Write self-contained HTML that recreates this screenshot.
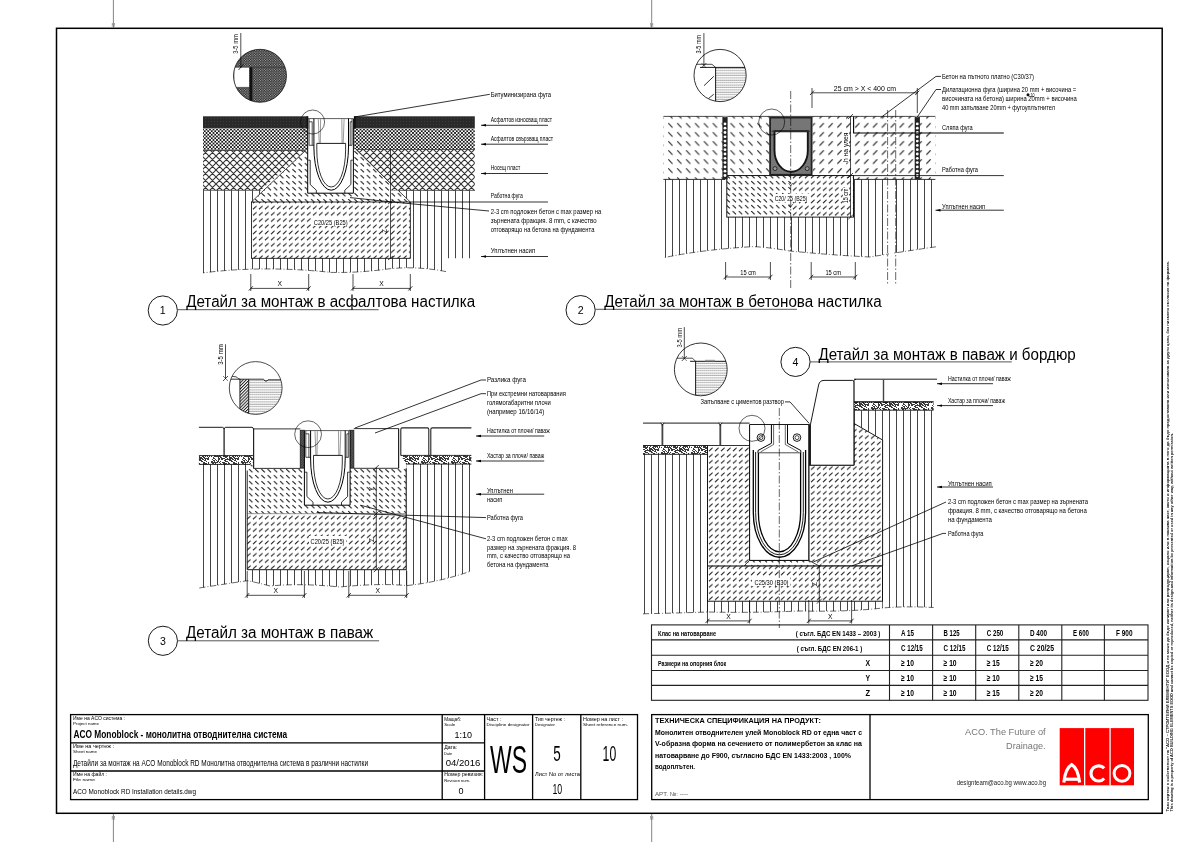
<!DOCTYPE html>
<html><head><meta charset="utf-8"><title>ACO Monoblock RD</title>
<style>html,body{margin:0;padding:0;background:#fff;}svg{display:block;font-family:"Liberation Sans", sans-serif;}</style>
</head><body>
<div style="position:relative;width:1191px;height:842px;overflow:hidden">
<div style="filter:grayscale(1)">
<svg width="1191" height="842" viewBox="0 0 1191 842">
<rect width="1191" height="842" fill="#fff"/>

<defs>
<pattern id="vl" width="7" height="10" patternUnits="userSpaceOnUse"><rect x="0" y="0" width="1" height="10" fill="#444"/></pattern>
<pattern id="xh" x="426" y="156" width="7" height="7" patternUnits="userSpaceOnUse"><path d="M-1,-1L8,8M6,-1L8,1M-1,6L1,8M8,-1L-1,8M1,-1L-1,1M8,6L6,8" stroke="#333" stroke-width="1.1"/></pattern>
<pattern id="fx" width="3.5" height="3.5" patternUnits="userSpaceOnUse"><path d="M-0.5,-0.5L4,4M4,-0.5L-0.5,4" stroke="#000" stroke-width="0.8"/></pattern>
<pattern id="dk" width="3" height="3" patternUnits="userSpaceOnUse"><rect width="3" height="3" fill="#2a2a2a"/><rect x="1" y="1" width="1" height="1" fill="#3c3c3c"/></pattern>
<pattern id="dsh" width="6.2" height="6" patternUnits="userSpaceOnUse"><path d="M1.1,1.1L4.4,4.4" stroke="#1a1a1a" stroke-width="1.05"/></pattern>
<pattern id="dsf" width="6.0" height="6.2" patternUnits="userSpaceOnUse"><path d="M1.0,4.6L4.6,1.4" stroke="#1a1a1a" stroke-width="1.05"/></pattern>
<pattern id="snd" width="30" height="9" patternUnits="userSpaceOnUse"><rect width="30" height="9" fill="#fff"/><path d="M2,0h1v1h-1zM5,0h1v1h-1zM8,0h2v1h-2zM11,0h2v1h-2zM15,0h6v1h-6zM22,0h2v1h-2zM25,0h1v1h-1zM27,0h2v1h-2zM3,1h2v1h-2zM6,1h1v1h-1zM8,1h1v1h-1zM14,1h2v1h-2zM19,1h3v1h-3zM24,1h2v1h-2zM1,2h2v1h-2zM4,2h1v1h-1zM7,2h2v1h-2zM10,2h1v1h-1zM15,2h3v1h-3zM21,2h2v1h-2zM26,2h1v1h-1zM1,3h7v1h-7zM9,3h1v1h-1zM12,3h3v1h-3zM18,3h1v1h-1zM23,3h2v1h-2zM28,3h1v1h-1zM2,4h2v1h-2zM5,4h1v1h-1zM10,4h1v1h-1zM13,4h4v1h-4zM18,4h2v1h-2zM23,4h4v1h-4zM28,4h1v1h-1zM4,5h2v1h-2zM7,5h1v1h-1zM9,5h1v1h-1zM11,5h1v1h-1zM13,5h3v1h-3zM17,5h1v1h-1zM20,5h1v1h-1zM23,5h5v1h-5zM29,5h1v1h-1zM1,6h1v1h-1zM4,6h7v1h-7zM13,6h5v1h-5zM19,6h1v1h-1zM22,6h2v1h-2zM25,6h1v1h-1zM27,6h1v1h-1zM29,6h1v1h-1zM3,7h1v1h-1zM8,7h1v1h-1zM10,7h2v1h-2zM15,7h2v1h-2zM19,7h3v1h-3zM23,7h2v1h-2zM28,7h1v1h-1zM3,8h2v1h-2zM8,8h2v1h-2zM11,8h4v1h-4zM17,8h1v1h-1zM19,8h4v1h-4zM24,8h5v1h-5z" fill="#3a3a3a"/></pattern>
<pattern id="stp" width="2" height="2.4" patternUnits="userSpaceOnUse"><rect width="2" height="2.4" fill="#fff"/><rect x="0.4" y="0.6" width="1.1" height="0.8" fill="#444"/></pattern>
<pattern id="dd" width="2.5" height="2.5" patternUnits="userSpaceOnUse"><rect width="2.5" height="2.5" fill="#2a2a2a"/><rect x="0.2" y="0.2" width="0.9" height="0.9" fill="#eee"/><rect x="1.45" y="1.45" width="0.9" height="0.9" fill="#ddd"/></pattern>
<pattern id="gch" width="2" height="2" patternUnits="userSpaceOnUse"><rect width="2" height="2" fill="#5a5a5a"/><rect x="0" y="0" width="1" height="1" fill="#3a3a3a"/></pattern>
<pattern id="dh" width="2.5" height="2.5" patternUnits="userSpaceOnUse"><rect width="2.5" height="2.5" fill="#3a3a3a"/><path d="M-0.5,3L3,-0.5" stroke="#888" stroke-width="0.6"/></pattern>
<pattern id="dsh9" x="668" y="122.8" width="8.9" height="9.05" patternUnits="userSpaceOnUse"><path d="M0.3,0.3L4.5,4.8" stroke="#1a1a1a" stroke-width="1.05"/></pattern>
<pattern id="dsf9" x="668" y="122.8" width="8.9" height="9.05" patternUnits="userSpaceOnUse"><path d="M0.3,4.8L4.5,0.3" stroke="#1a1a1a" stroke-width="1.05"/></pattern>
<pattern id="dg" width="2.2" height="2.2" patternUnits="userSpaceOnUse" patternTransform="rotate(-45)"><rect width="2.2" height="2.2" fill="#fff"/><rect x="0" y="0" width="2.2" height="1.0" fill="#222"/></pattern>
</defs>
<line x1="113.4" y1="0.0" x2="113.4" y2="27.5" stroke="#777" stroke-width="0.9" /><line x1="113.4" y1="814.0" x2="113.4" y2="842.0" stroke="#777" stroke-width="0.9" /><text x="113.4" y="27.0" font-size="4.5" text-anchor="middle" fill="#777" >M</text><text x="113.4" y="820.0" font-size="4.5" text-anchor="middle" fill="#777" >M</text><line x1="651.7" y1="0.0" x2="651.7" y2="27.5" stroke="#777" stroke-width="0.9" /><line x1="651.7" y1="814.0" x2="651.7" y2="842.0" stroke="#777" stroke-width="0.9" /><text x="651.7" y="27.0" font-size="4.5" text-anchor="middle" fill="#777" >M</text><text x="651.7" y="820.0" font-size="4.5" text-anchor="middle" fill="#777" >M</text><rect x="56.5" y="28.3" width="1105.7" height="785.0" fill="none" stroke="#000" stroke-width="1.5" /><rect x="70.6" y="714.6" width="566.9" height="85.0" fill="none" stroke="#000" stroke-width="1.3" /><line x1="442.2" y1="714.6" x2="442.2" y2="799.6" stroke="#000" stroke-width="1.3" /><line x1="484.6" y1="714.6" x2="484.6" y2="799.6" stroke="#000" stroke-width="1.3" /><line x1="532.6" y1="714.6" x2="532.6" y2="799.6" stroke="#000" stroke-width="1.3" /><line x1="580.8" y1="714.6" x2="580.8" y2="799.6" stroke="#000" stroke-width="1.3" /><line x1="70.6" y1="742.8" x2="484.6" y2="742.8" stroke="#000" stroke-width="1.3" /><line x1="70.6" y1="771.0" x2="484.6" y2="771.0" stroke="#000" stroke-width="1.3" /><text x="73.0" y="719.5" font-size="4.6" textLength="52.0" lengthAdjust="spacingAndGlyphs" >Име на ACO система :</text><text x="73.0" y="724.5" font-size="4.2" textLength="26.0" lengthAdjust="spacingAndGlyphs" >Project name</text><text x="73.5" y="738.2" font-size="10.5" textLength="213.7" lengthAdjust="spacingAndGlyphs" font-weight="bold" >ACO Monoblock - монолитна отводнителна система</text><text x="73.0" y="747.5" font-size="4.6" textLength="41.0" lengthAdjust="spacingAndGlyphs" >Име на чертеж :</text><text x="73.0" y="752.5" font-size="4.2" textLength="24.0" lengthAdjust="spacingAndGlyphs" >Sheet name</text><text x="73.0" y="766.2" font-size="8.8" textLength="295.0" lengthAdjust="spacingAndGlyphs" >Детайли за монтаж на ACO Monoblock RD Монолитна отводнителна система в различни настилки</text><text x="73.0" y="776.0" font-size="4.6" textLength="34.0" lengthAdjust="spacingAndGlyphs" >Име на файл :</text><text x="73.0" y="781.0" font-size="4.2" textLength="22.0" lengthAdjust="spacingAndGlyphs" >File name</text><text x="73.0" y="793.8" font-size="7.8" textLength="123.0" lengthAdjust="spacingAndGlyphs" >ACO Monoblock RD Installation details.dwg</text><text x="444.2" y="720.5" font-size="4.6" textLength="17.0" lengthAdjust="spacingAndGlyphs" >Мащаб:</text><text x="444.2" y="725.5" font-size="4.2" textLength="11.0" lengthAdjust="spacingAndGlyphs" >Scale</text><text x="463.3" y="737.7" font-size="9" textLength="17.5" lengthAdjust="spacingAndGlyphs" text-anchor="middle" >1:10</text><text x="444.2" y="748.8" font-size="4.6" textLength="13.0" lengthAdjust="spacingAndGlyphs" >Дата:</text><text x="444.2" y="754.5" font-size="4.2" textLength="8.0" lengthAdjust="spacingAndGlyphs" >Date</text><text x="463.0" y="765.6" font-size="9" textLength="34.6" lengthAdjust="spacingAndGlyphs" text-anchor="middle" >04/2016</text><text x="444.2" y="776.2" font-size="4.6" textLength="39.0" lengthAdjust="spacingAndGlyphs" >Номер ревизия:</text><text x="444.2" y="781.8" font-size="4.2" textLength="26.0" lengthAdjust="spacingAndGlyphs" >Revision num.</text><text x="461.0" y="793.5" font-size="9" text-anchor="middle" >0</text><text x="486.5" y="720.5" font-size="4.6" textLength="15.0" lengthAdjust="spacingAndGlyphs" >Част :</text><text x="486.5" y="725.5" font-size="4.2" textLength="43.0" lengthAdjust="spacingAndGlyphs" >Discipline designator</text><text x="508.5" y="772.5" font-size="38" textLength="37.0" lengthAdjust="spacingAndGlyphs" text-anchor="middle" >WS</text><text x="535.0" y="720.5" font-size="4.6" textLength="30.0" lengthAdjust="spacingAndGlyphs" >Тип чертеж :</text><text x="535.0" y="725.5" font-size="4.2" textLength="20.0" lengthAdjust="spacingAndGlyphs" >Designator</text><text x="557.0" y="760.8" font-size="22" textLength="7.5" lengthAdjust="spacingAndGlyphs" text-anchor="middle" >5</text><text x="535.0" y="775.8" font-size="4.6" textLength="45.0" lengthAdjust="spacingAndGlyphs" >Лист No от листа</text><text x="557.3" y="793.8" font-size="15" textLength="9.8" lengthAdjust="spacingAndGlyphs" text-anchor="middle" >10</text><text x="583.0" y="720.5" font-size="4.6" textLength="40.0" lengthAdjust="spacingAndGlyphs" >Номер на лист :</text><text x="583.0" y="725.5" font-size="4.2" textLength="45.0" lengthAdjust="spacingAndGlyphs" >Sheet reference num.</text><text x="609.4" y="761.0" font-size="22" textLength="13.6" lengthAdjust="spacingAndGlyphs" text-anchor="middle" >10</text><rect x="651.7" y="714.6" width="496.6" height="85.0" fill="none" stroke="#000" stroke-width="1.3" /><line x1="870.0" y1="714.6" x2="870.0" y2="799.6" stroke="#000" stroke-width="1.3" /><text x="655.0" y="723.4" font-size="8" textLength="166.0" lengthAdjust="spacingAndGlyphs" font-weight="bold" >ТЕХНИЧЕСКА СПЕЦИФИКАЦИЯ НА ПРОДУКТ:</text><text x="655.0" y="735.0" font-size="7.8" textLength="207.0" lengthAdjust="spacingAndGlyphs" font-weight="bold" >Монолитен отводнителен улей Monoblock RD от една част с</text><text x="655.0" y="745.9" font-size="7.8" textLength="207.0" lengthAdjust="spacingAndGlyphs" font-weight="bold" >V-образна форма на сечението от полимербетон за клас на</text><text x="655.0" y="757.5" font-size="7.8" textLength="196.0" lengthAdjust="spacingAndGlyphs" font-weight="bold" >натоварване до F900, съгласно БДС EN 1433:2003 , 100%</text><text x="655.0" y="769.3" font-size="7.8" textLength="40.0" lengthAdjust="spacingAndGlyphs" font-weight="bold" >водоплътен.</text><text x="655.0" y="796.0" font-size="6" textLength="33.0" lengthAdjust="spacingAndGlyphs" fill="#555" >APT. №: ----</text><text x="1045.6" y="735.0" font-size="9" textLength="80.5" lengthAdjust="spacingAndGlyphs" text-anchor="end" fill="#777" >ACO. The Future of</text><text x="1045.6" y="749.0" font-size="9" textLength="39.5" lengthAdjust="spacingAndGlyphs" text-anchor="end" fill="#777" >Drainage.</text><text x="1046.0" y="784.8" font-size="7" textLength="89.3" lengthAdjust="spacingAndGlyphs" text-anchor="end" fill="#222" >designteam@aco.bg  www.aco.bg</text><rect x="651.5" y="624.9" width="496.5" height="75.4" fill="none" stroke="#222" stroke-width="1.1" /><line x1="651.5" y1="639.9" x2="1148.0" y2="639.9" stroke="#222" stroke-width="1.1" /><line x1="651.5" y1="655.2" x2="1148.0" y2="655.2" stroke="#222" stroke-width="1.1" /><line x1="651.5" y1="670.5" x2="1148.0" y2="670.5" stroke="#222" stroke-width="1.1" /><line x1="651.5" y1="685.4" x2="1148.0" y2="685.4" stroke="#222" stroke-width="1.1" /><line x1="889.5" y1="624.9" x2="889.5" y2="700.3" stroke="#222" stroke-width="1.1" /><line x1="932.6" y1="624.9" x2="932.6" y2="700.3" stroke="#222" stroke-width="1.1" /><line x1="975.7" y1="624.9" x2="975.7" y2="700.3" stroke="#222" stroke-width="1.1" /><line x1="1018.8" y1="624.9" x2="1018.8" y2="700.3" stroke="#222" stroke-width="1.1" /><line x1="1061.8" y1="624.9" x2="1061.8" y2="700.3" stroke="#222" stroke-width="1.1" /><line x1="1104.4" y1="624.9" x2="1104.4" y2="700.3" stroke="#222" stroke-width="1.1" /><text x="658.0" y="636.4" font-size="7.6" textLength="58.0" lengthAdjust="spacingAndGlyphs" font-weight="bold" >Клас на натоварване</text><text x="795.7" y="636.4" font-size="7.6" textLength="84.7" lengthAdjust="spacingAndGlyphs" font-weight="bold" >( съгл. БДС EN 1433 – 2003 )</text><text x="796.7" y="650.9" font-size="7.6" textLength="65.5" lengthAdjust="spacingAndGlyphs" font-weight="bold" >( съгл. БДС EN 206-1 )</text><text x="658.0" y="666.4" font-size="7.6" textLength="68.2" lengthAdjust="spacingAndGlyphs" font-weight="bold" >Размери на опорния блок</text><text x="867.7" y="666.3" font-size="9" textLength="4.6" lengthAdjust="spacingAndGlyphs" text-anchor="middle" font-weight="bold" >X</text><text x="867.7" y="680.8" font-size="9" textLength="4.6" lengthAdjust="spacingAndGlyphs" text-anchor="middle" font-weight="bold" >Y</text><text x="867.7" y="696.0" font-size="9" textLength="4.6" lengthAdjust="spacingAndGlyphs" text-anchor="middle" font-weight="bold" >Z</text><text x="901.0" y="635.9" font-size="9" textLength="13.0" lengthAdjust="spacingAndGlyphs" font-weight="bold" >A 15</text><text x="943.6" y="635.9" font-size="9" textLength="16.0" lengthAdjust="spacingAndGlyphs" font-weight="bold" >B 125</text><text x="986.8" y="635.9" font-size="9" textLength="16.5" lengthAdjust="spacingAndGlyphs" font-weight="bold" >C 250</text><text x="1030.0" y="635.9" font-size="9" textLength="17.0" lengthAdjust="spacingAndGlyphs" font-weight="bold" >D 400</text><text x="1073.0" y="635.9" font-size="9" textLength="16.0" lengthAdjust="spacingAndGlyphs" font-weight="bold" >E 600</text><text x="1116.0" y="635.9" font-size="9" textLength="16.5" lengthAdjust="spacingAndGlyphs" font-weight="bold" >F 900</text><text x="901.0" y="651.0" font-size="9" textLength="21.8" lengthAdjust="spacingAndGlyphs" font-weight="bold" >C 12/15</text><text x="943.6" y="651.0" font-size="9" textLength="21.8" lengthAdjust="spacingAndGlyphs" font-weight="bold" >C 12/15</text><text x="986.8" y="651.0" font-size="9" textLength="21.8" lengthAdjust="spacingAndGlyphs" font-weight="bold" >C 12/15</text><text x="1030.0" y="651.0" font-size="9" textLength="24.0" lengthAdjust="spacingAndGlyphs" font-weight="bold" >C 20/25</text><text x="901.0" y="666.1" font-size="9" textLength="13.0" lengthAdjust="spacingAndGlyphs" font-weight="bold" >≥ 10</text><text x="943.6" y="666.1" font-size="9" textLength="13.0" lengthAdjust="spacingAndGlyphs" font-weight="bold" >≥ 10</text><text x="986.8" y="666.1" font-size="9" textLength="13.0" lengthAdjust="spacingAndGlyphs" font-weight="bold" >≥ 15</text><text x="1030.0" y="666.1" font-size="9" textLength="13.0" lengthAdjust="spacingAndGlyphs" font-weight="bold" >≥ 20</text><text x="901.0" y="681.2" font-size="9" textLength="13.0" lengthAdjust="spacingAndGlyphs" font-weight="bold" >≥ 10</text><text x="943.6" y="681.2" font-size="9" textLength="13.0" lengthAdjust="spacingAndGlyphs" font-weight="bold" >≥ 10</text><text x="986.8" y="681.2" font-size="9" textLength="13.0" lengthAdjust="spacingAndGlyphs" font-weight="bold" >≥ 10</text><text x="1030.0" y="681.2" font-size="9" textLength="13.0" lengthAdjust="spacingAndGlyphs" font-weight="bold" >≥ 15</text><text x="901.0" y="696.3" font-size="9" textLength="13.0" lengthAdjust="spacingAndGlyphs" font-weight="bold" >≥ 10</text><text x="943.6" y="696.3" font-size="9" textLength="13.0" lengthAdjust="spacingAndGlyphs" font-weight="bold" >≥ 10</text><text x="986.8" y="696.3" font-size="9" textLength="13.0" lengthAdjust="spacingAndGlyphs" font-weight="bold" >≥ 15</text><text x="1030.0" y="696.3" font-size="9" textLength="13.0" lengthAdjust="spacingAndGlyphs" font-weight="bold" >≥ 20</text><circle cx="162.8" cy="310.5" r="14.6" fill="none" stroke="#000" stroke-width="0.9" /><text x="162.8" y="314.4" font-size="10.6" text-anchor="middle" >1</text><line x1="177.4" y1="309.7" x2="378.6" y2="309.7" stroke="#555" stroke-width="1.0" /><text x="186.2" y="307.0" font-size="16" textLength="288.9" lengthAdjust="spacingAndGlyphs" >Детайл за монтаж в асфалтова настилка</text><circle cx="580.6" cy="310.1" r="14.6" fill="none" stroke="#000" stroke-width="0.9" /><text x="580.6" y="314.0" font-size="10.6" text-anchor="middle" >2</text><line x1="595.2" y1="309.3" x2="797.0" y2="309.3" stroke="#555" stroke-width="1.0" /><text x="604.2" y="307.3" font-size="16" textLength="277.5" lengthAdjust="spacingAndGlyphs" >Детайл за монтаж в бетонова настилка</text><circle cx="162.9" cy="640.8" r="14.6" fill="none" stroke="#000" stroke-width="0.9" /><text x="162.9" y="644.7" font-size="10.6" text-anchor="middle" >3</text><line x1="177.5" y1="640.8" x2="379.1" y2="640.8" stroke="#555" stroke-width="1.0" /><text x="185.9" y="637.9" font-size="16" textLength="187.3" lengthAdjust="spacingAndGlyphs" >Детайл за монтаж в паваж</text><circle cx="795.5" cy="361.9" r="14.6" fill="none" stroke="#000" stroke-width="0.9" /><text x="795.5" y="365.8" font-size="10.6" text-anchor="middle" >4</text><line x1="810.1" y1="361.9" x2="1011.8" y2="361.9" stroke="#555" stroke-width="1.0" /><text x="818.4" y="359.7" font-size="16" textLength="257.3" lengthAdjust="spacingAndGlyphs" >Детайл за монтаж в паваж и бордюр</text><text x="1168.6" y="811.5" font-size="4.4" textLength="550.5" lengthAdjust="spacingAndGlyphs" fill="#111" font-weight="bold" transform="rotate(-90 1168.6 811.5)" >Тази чертеж е собственост на "ACO – СТРОИТЕЛНИ ЕЛЕМЕНТИ" ЕООД и не може да бъде копиран или репродуциран, изцяло или в някаква част, както и информацията в него да бъде предоставяна или използвана за други цели, без писмено съгласие на фирмата.</text><text x="1172.9" y="811.5" font-size="4.4" textLength="378.5" lengthAdjust="spacingAndGlyphs" fill="#111" font-weight="bold" transform="rotate(-90 1172.9 811.5)" >This drawing is a property of ACO BUILDING ELEMENTS EOOD and cannot be copied or reproduced, neither its design and information be presented or used in any other way, without written permission.</text><path d="M203,190.3 L474.8,190.3 L474.8,258.3 L446,258.3 L446,271.6 Q418,266 390,268.7 Q360,273 331,272.4 Q290,268 250,269.2 Q225,270 203,272.9 Z" fill="url(#vl)" /><path d="M446,271.6 Q418,266 390,268.7 Q360,273 331,272.4 Q290,268 250,269.2 Q225,270 203,272.9" fill="none" stroke="#000" stroke-width="0.6" stroke-dasharray="6,2,1,2"/><rect x="203.0" y="116.3" width="105.0" height="12.2" fill="url(#dk)" /><rect x="203.0" y="128.5" width="105.0" height="22.0" fill="#fff" /><rect x="203.0" y="128.5" width="105.0" height="22.0" fill="url(#fx)" /><polygon points="203.0,150.5 305.5,150.5 260.8,190.3 203.0,190.3" fill="#fff" /><polygon points="203.0,150.5 305.5,150.5 260.8,190.3 203.0,190.3" fill="url(#xh)" /><rect x="354.0" y="116.3" width="120.8" height="12.2" fill="url(#dk)" /><rect x="354.0" y="128.5" width="120.8" height="21.0" fill="#fff" /><rect x="354.0" y="128.5" width="120.8" height="21.0" fill="url(#fx)" /><polygon points="356.0,149.5 474.8,149.5 474.8,190.4 390.5,190.4 390.5,183.4" fill="#fff" /><polygon points="356.0,149.5 474.8,149.5 474.8,190.4 390.5,190.4 390.5,183.4" fill="url(#xh)" /><line x1="203.0" y1="150.5" x2="305.5" y2="150.5" stroke="#000" stroke-width="0.6" /><line x1="356.0" y1="149.5" x2="474.8" y2="149.5" stroke="#000" stroke-width="0.6" /><line x1="203.0" y1="190.3" x2="260.8" y2="190.3" stroke="#000" stroke-width="0.6" /><line x1="390.5" y1="190.4" x2="474.8" y2="190.4" stroke="#000" stroke-width="0.6" /><polygon points="305.5,150.5 308.0,150.5 354.0,149.5 356.0,149.5 390.5,183.4 390.5,190.4 398.2,190.4 410.3,202.0 251.4,202.0" fill="#fff" /><polygon points="305.5,150.5 308.0,150.5 354.0,149.5 356.0,149.5 390.5,183.4 390.5,190.4 398.2,190.4 410.3,202.0 251.4,202.0" fill="url(#dsh)" /><line x1="305.5" y1="150.5" x2="251.4" y2="202.0" stroke="#000" stroke-width="0.7" /><line x1="356.0" y1="149.5" x2="390.5" y2="183.4" stroke="#000" stroke-width="0.7" /><line x1="398.2" y1="190.4" x2="410.3" y2="202.0" stroke="#000" stroke-width="0.7" /><rect x="251.4" y="202.0" width="158.9" height="56.3" fill="#fff" /><rect x="251.4" y="202.0" width="158.9" height="56.3" fill="url(#dsf)" stroke="#000" stroke-width="0.8" /><rect x="312.5" y="217.5" width="37.0" height="8.5" fill="#fff" /><text x="330.7" y="224.6" font-size="7.5" textLength="33.8" lengthAdjust="spacingAndGlyphs" text-anchor="middle" >C20/25 (B25)</text><path d="M307.7,118.6 L307.7,193.2 L353.4,193.2 L353.4,118.6" fill="#fff" stroke="#000" stroke-width="1.0" /><line x1="307.7" y1="118.6" x2="353.4" y2="118.6" stroke="#333" stroke-width="0.8" /><path d="M309.1,119 L309.1,145.3 L313.9,145.3 M309.1,121.8 L312.2,121.8 L312.2,145.3" fill="none" stroke="#000" stroke-width="0.7" /><path d="M352.0,119 L352.0,145.3 L348.5,145.3 M352.0,121.8 L350.2,121.8 L350.2,145.3" fill="none" stroke="#000" stroke-width="0.7" /><path d="M313.9,118.6 L313.9,147 A17.3,43.2 0 0,0 348.5,147 L348.5,118.6" fill="none" stroke="#000" stroke-width="1.0" /><path d="M316.8,143.4 L316.8,150 A14.4,37 0 0,0 345.6,150 L345.6,143.4" fill="none" stroke="#000" stroke-width="0.8" /><line x1="316.8" y1="143.4" x2="345.6" y2="143.4" stroke="#000" stroke-width="0.9" /><path d="M318.3,119.2 L319.2,143 M320.6,119.2 L320.3,143 M344.1,119.2 L343.2,143 M341.8,119.2 L342.1,143" fill="none" stroke="#444" stroke-width="0.55" /><path d="M308.3,160.2 L310.2,160.2 L310.2,184.5 L316.3,190.2 L316.3,193.2" fill="none" stroke="#000" stroke-width="0.8" /><path d="M352.8,160.2 L350.9,160.2 L350.9,184.5 L344.8,190.2 L344.8,193.2" fill="none" stroke="#000" stroke-width="0.8" /><circle cx="312.6" cy="122.0" r="12.0" fill="none" stroke="#000" stroke-width="0.6" /><rect x="306.5" y="116.3" width="1.8" height="12.5" fill="#111" /><rect x="353.9" y="116.3" width="1.8" height="12.5" fill="#111" /><line x1="390.5" y1="149.4" x2="390.5" y2="258.3" stroke="#000" stroke-width="0.7" /><line x1="388.0" y1="204.0" x2="393.0" y2="200.0" stroke="#000" stroke-width="0.7" /><line x1="388.0" y1="260.0" x2="393.0" y2="256.0" stroke="#000" stroke-width="0.7" /><text x="387.0" y="231.0" font-size="6.5" text-anchor="middle" transform="rotate(-90 387.0 231.0)" >Z</text><line x1="250.8" y1="288.4" x2="308.7" y2="288.4" stroke="#000" stroke-width="0.7" /><line x1="250.8" y1="274.0" x2="250.8" y2="291.0" stroke="#000" stroke-width="0.7" /><line x1="308.7" y1="274.0" x2="308.7" y2="291.0" stroke="#000" stroke-width="0.7" /><line x1="248.8" y1="290.5" x2="252.8" y2="286.3" stroke="#000" stroke-width="0.8" /><line x1="306.7" y1="290.5" x2="310.7" y2="286.3" stroke="#000" stroke-width="0.8" /><text x="279.8" y="286.0" font-size="7" textLength="4.5" lengthAdjust="spacingAndGlyphs" text-anchor="middle" >X</text><line x1="353.0" y1="288.4" x2="410.3" y2="288.4" stroke="#000" stroke-width="0.7" /><line x1="353.0" y1="274.0" x2="353.0" y2="291.0" stroke="#000" stroke-width="0.7" /><line x1="410.3" y1="274.0" x2="410.3" y2="291.0" stroke="#000" stroke-width="0.7" /><line x1="351.0" y1="290.5" x2="355.0" y2="286.3" stroke="#000" stroke-width="0.8" /><line x1="408.3" y1="290.5" x2="412.3" y2="286.3" stroke="#000" stroke-width="0.8" /><text x="381.6" y="286.0" font-size="7" textLength="4.5" lengthAdjust="spacingAndGlyphs" text-anchor="middle" >X</text><clipPath id="c1"><circle cx="260" cy="75.8" r="26.5"/></clipPath><g clip-path="url(#c1)"><rect x="230.0" y="45.0" width="62.0" height="62.0" fill="url(#dd)" /><rect x="234.3" y="67.3" width="15.1" height="19.6" fill="#fff" /><rect x="249.4" y="67.3" width="3.0" height="40.0" fill="#111" /><line x1="234.0" y1="67.3" x2="290.0" y2="67.3" stroke="#222" stroke-width="0.5" /></g><circle cx="260.0" cy="75.8" r="26.5" fill="none" stroke="#000" stroke-width="0.7" /><line x1="240.8" y1="33.0" x2="240.8" y2="68.0" stroke="#000" stroke-width="0.7" /><line x1="238.5" y1="70.0" x2="243.5" y2="64.0" stroke="#000" stroke-width="0.7" /><text x="237.8" y="44.0" font-size="6.8" textLength="19.5" lengthAdjust="spacingAndGlyphs" text-anchor="middle" transform="rotate(-90 237.8 44.0)" >3-5 mm</text><line x1="489.8" y1="94.3" x2="354.6" y2="117.0" stroke="#000" stroke-width="0.8" /><text x="490.7" y="97.0" font-size="7.2" textLength="60.3" lengthAdjust="spacingAndGlyphs" >Битуминизирана фуга</text><text x="490.7" y="122.0" font-size="7.2" textLength="61.4" lengthAdjust="spacingAndGlyphs" >Асфалтов износващ пласт</text><line x1="481.0" y1="125.3" x2="548.0" y2="125.3" stroke="#000" stroke-width="0.8" /><polygon points="481.0,125.3 486.0,124.1 486.0,126.5" fill="#000" /><text x="490.7" y="141.0" font-size="7.2" textLength="62.5" lengthAdjust="spacingAndGlyphs" >Асфалтов свързващ пласт</text><line x1="481.0" y1="144.2" x2="548.0" y2="144.2" stroke="#000" stroke-width="0.8" /><polygon points="481.0,144.2 486.0,143.0 486.0,145.4" fill="#000" /><text x="490.7" y="170.0" font-size="7.2" textLength="29.5" lengthAdjust="spacingAndGlyphs" >Носещ пласт</text><line x1="481.0" y1="173.5" x2="548.0" y2="173.5" stroke="#000" stroke-width="0.8" /><polygon points="481.0,173.5 486.0,172.3 486.0,174.7" fill="#000" /><text x="490.7" y="198.0" font-size="7.2" textLength="32.1" lengthAdjust="spacingAndGlyphs" >Работна фуга</text><line x1="410.3" y1="202.0" x2="548.0" y2="202.0" stroke="#000" stroke-width="0.8" /><text x="490.7" y="214.2" font-size="7.2" textLength="110.6" lengthAdjust="spacingAndGlyphs" >2-3 cm подложен бетон с max размер на</text><text x="490.7" y="223.4" font-size="7.2" textLength="105.9" lengthAdjust="spacingAndGlyphs" >зърнената фракция. 8 mm, с качество</text><text x="490.7" y="231.9" font-size="7.2" textLength="103.7" lengthAdjust="spacingAndGlyphs" >отговарящо на бетона на фундамента</text><path d="M350,197.6 L392,202 L489,211" fill="none" stroke="#000" stroke-width="0.8" /><text x="490.7" y="252.7" font-size="7.2" textLength="44.5" lengthAdjust="spacingAndGlyphs" >Уплътнен насип</text><line x1="481.0" y1="256.5" x2="548.0" y2="256.5" stroke="#000" stroke-width="0.8" /><polygon points="481.0,256.5 486.0,255.3 486.0,257.7" fill="#000" /><path d="M663.9,179.4 L935.9,179.4 L935.9,246.8 Q900,252 870,257 Q830,255 790,251 Q760,246 750,246.8 Q700,250 663.9,257.7 Z" fill="url(#vl)" /><path d="M935.9,246.8 Q900,252 870,257 Q830,255 790,251 Q760,246 750,246.8 Q700,250 663.9,257.7" fill="none" stroke="#000" stroke-width="0.6" stroke-dasharray="6,2,1,2"/><rect x="889.0" y="179.4" width="5.0" height="80.0" fill="#fff" /><rect x="663.4" y="116.4" width="106.0" height="63.0" fill="#fff" /><rect x="663.4" y="116.4" width="106.0" height="63.0" fill="url(#dsh9)" /><rect x="812.6" y="116.4" width="122.8" height="63.0" fill="#fff" /><rect x="812.6" y="116.4" width="122.8" height="63.0" fill="url(#dsf9)" /><line x1="663.4" y1="116.4" x2="935.4" y2="116.4" stroke="#000" stroke-width="0.7" /><line x1="663.4" y1="179.4" x2="725.0" y2="179.4" stroke="#000" stroke-width="0.8" /><line x1="854.0" y1="179.4" x2="935.4" y2="179.4" stroke="#000" stroke-width="0.8" /><line x1="727.0" y1="175.6" x2="854.0" y2="175.6" stroke="#666" stroke-width="0.6" /><rect x="726.8" y="175.6" width="126.7" height="41.5" fill="#fff" /><rect x="726.8" y="175.6" width="64.0" height="41.5" fill="url(#dsh)" /><rect x="790.8" y="175.6" width="62.7" height="41.5" fill="url(#dsf)" /><rect x="726.8" y="175.6" width="126.7" height="41.5" fill="none" stroke="#000" stroke-width="0.9" /><rect x="773.0" y="194.0" width="36.0" height="8.0" fill="#fff" /><text x="791.0" y="200.5" font-size="7.5" textLength="32.7" lengthAdjust="spacingAndGlyphs" text-anchor="middle" >C20/ 25 (B25)</text><rect x="722.4" y="116.4" width="5.2" height="63.0" fill="#222" /><circle cx="725.0" cy="123.9" r="1.4" fill="#fff" /><circle cx="725.0" cy="128.2" r="1.4" fill="#fff" /><circle cx="725.0" cy="132.5" r="1.4" fill="#fff" /><circle cx="725.0" cy="136.8" r="1.4" fill="#fff" /><circle cx="725.0" cy="141.1" r="1.4" fill="#fff" /><circle cx="725.0" cy="145.4" r="1.4" fill="#fff" /><circle cx="725.0" cy="149.7" r="1.4" fill="#fff" /><circle cx="725.0" cy="154.0" r="1.4" fill="#fff" /><circle cx="725.0" cy="158.3" r="1.4" fill="#fff" /><circle cx="725.0" cy="162.6" r="1.4" fill="#fff" /><circle cx="725.0" cy="166.9" r="1.4" fill="#fff" /><circle cx="725.0" cy="171.2" r="1.4" fill="#fff" /><circle cx="725.0" cy="175.5" r="1.4" fill="#fff" /><path d="M721.4,116.4 Q725.0,117.9 728.6,116.4" fill="#fff" /><rect x="914.7" y="116.4" width="5.2" height="63.0" fill="#222" /><circle cx="917.3" cy="123.9" r="1.4" fill="#fff" /><circle cx="917.3" cy="128.2" r="1.4" fill="#fff" /><circle cx="917.3" cy="132.5" r="1.4" fill="#fff" /><circle cx="917.3" cy="136.8" r="1.4" fill="#fff" /><circle cx="917.3" cy="141.1" r="1.4" fill="#fff" /><circle cx="917.3" cy="145.4" r="1.4" fill="#fff" /><circle cx="917.3" cy="149.7" r="1.4" fill="#fff" /><circle cx="917.3" cy="154.0" r="1.4" fill="#fff" /><circle cx="917.3" cy="158.3" r="1.4" fill="#fff" /><circle cx="917.3" cy="162.6" r="1.4" fill="#fff" /><circle cx="917.3" cy="166.9" r="1.4" fill="#fff" /><circle cx="917.3" cy="171.2" r="1.4" fill="#fff" /><circle cx="917.3" cy="175.5" r="1.4" fill="#fff" /><path d="M913.6999999999999,116.4 Q917.3,117.9 920.9,116.4" fill="#fff" /><rect x="770.1" y="117.6" width="41.5" height="57.2" fill="#767676" stroke="#222" stroke-width="1.8" /><path d="M774.5,131.2 L774.5,150.5 A16.65,21.2 0 0,0 807.8,150.5 L807.8,131.2 Z" fill="#fff" stroke="#151515" stroke-width="1.9" /><line x1="771.5" y1="131.2" x2="810.5" y2="131.2" stroke="#333" stroke-width="1.0" /><circle cx="775.0" cy="168.6" r="2.0" fill="#999" stroke="#222" stroke-width="0.9" /><circle cx="807.2" cy="168.6" r="2.0" fill="#999" stroke="#222" stroke-width="0.9" /><path d="M853.6,116.4 L853.6,133.0 L1003.8,133.0" fill="none" stroke="#000" stroke-width="1.1" /><line x1="790.7" y1="91.0" x2="790.7" y2="290.0" stroke="#000" stroke-width="0.6" stroke-dasharray="8,2,1.5,2"/><line x1="887.6" y1="110.0" x2="887.6" y2="285.0" stroke="#000" stroke-width="0.6" stroke-dasharray="8,2,1.5,2"/><line x1="895.7" y1="110.0" x2="895.7" y2="285.0" stroke="#000" stroke-width="0.6" stroke-dasharray="8,2,1.5,2"/><line x1="850.5" y1="116.4" x2="850.5" y2="217.1" stroke="#000" stroke-width="0.7" /><line x1="848.0" y1="119.0" x2="853.0" y2="114.0" stroke="#000" stroke-width="0.7" /><line x1="848.0" y1="178.0" x2="853.0" y2="173.0" stroke="#000" stroke-width="0.7" /><line x1="848.0" y1="219.6" x2="853.0" y2="214.6" stroke="#000" stroke-width="0.7" /><rect x="842.8" y="132.0" width="6.3" height="30.5" fill="#fff" /><text x="848.2" y="147.3" font-size="7" textLength="29.4" lengthAdjust="spacingAndGlyphs" text-anchor="middle" transform="rotate(-90 848.2 147.3)" >h на улея</text><rect x="842.8" y="188.0" width="6.3" height="16.0" fill="#fff" /><text x="848.2" y="195.9" font-size="7" textLength="14.6" lengthAdjust="spacingAndGlyphs" text-anchor="middle" transform="rotate(-90 848.2 195.9)" >15 cm</text><path d="M790.7,186 l-2,-3 M790.7,186 l2,-3 M790.7,207 l-2,-3 M790.7,207 l2,-3" fill="none" stroke="#000" stroke-width="0.6" /><line x1="812.0" y1="92.8" x2="917.3" y2="92.8" stroke="#000" stroke-width="0.7" /><line x1="812.0" y1="88.0" x2="812.0" y2="108.0" stroke="#000" stroke-width="0.7" /><line x1="917.3" y1="88.0" x2="917.3" y2="113.0" stroke="#000" stroke-width="0.7" /><line x1="810.0" y1="95.0" x2="814.0" y2="90.6" stroke="#000" stroke-width="0.8" /><line x1="915.3" y1="95.0" x2="919.3" y2="90.6" stroke="#000" stroke-width="0.8" /><text x="864.9" y="90.8" font-size="7.2" textLength="62.2" lengthAdjust="spacingAndGlyphs" text-anchor="middle" >25 cm  &gt;  X  &lt;  400 cm</text><line x1="725.6" y1="277.0" x2="770.4" y2="277.0" stroke="#000" stroke-width="0.7" /><line x1="725.6" y1="262.0" x2="725.6" y2="280.0" stroke="#000" stroke-width="0.7" /><line x1="770.4" y1="262.0" x2="770.4" y2="280.0" stroke="#000" stroke-width="0.7" /><line x1="723.6" y1="279.2" x2="727.6" y2="274.8" stroke="#000" stroke-width="0.8" /><line x1="768.4" y1="279.2" x2="772.4" y2="274.8" stroke="#000" stroke-width="0.8" /><text x="748.0" y="275.2" font-size="7" textLength="15.6" lengthAdjust="spacingAndGlyphs" text-anchor="middle" >15 cm</text><line x1="811.2" y1="277.0" x2="855.3" y2="277.0" stroke="#000" stroke-width="0.7" /><line x1="811.2" y1="262.0" x2="811.2" y2="280.0" stroke="#000" stroke-width="0.7" /><line x1="855.3" y1="262.0" x2="855.3" y2="280.0" stroke="#000" stroke-width="0.7" /><line x1="809.2" y1="279.2" x2="813.2" y2="274.8" stroke="#000" stroke-width="0.8" /><line x1="853.3" y1="279.2" x2="857.3" y2="274.8" stroke="#000" stroke-width="0.8" /><text x="833.2" y="275.2" font-size="7" textLength="15.6" lengthAdjust="spacingAndGlyphs" text-anchor="middle" >15 cm</text><clipPath id="c2"><circle cx="720.1" cy="75.5" r="26.1"/></clipPath><g clip-path="url(#c2)"><rect x="715.6" y="67.4" width="35.0" height="40.0" fill="url(#stp)" /><line x1="715.6" y1="67.4" x2="715.6" y2="105.0" stroke="#000" stroke-width="0.9" /><line x1="700.0" y1="67.4" x2="750.0" y2="67.4" stroke="#000" stroke-width="0.9" /><path d="M690,64.3 L712,64.3 L715.6,67.4" fill="none" stroke="#000" stroke-width="0.7" /><line x1="704.0" y1="85.7" x2="713.8" y2="76.3" stroke="#000" stroke-width="0.8" /><line x1="708.5" y1="98.6" x2="713.8" y2="94.2" stroke="#000" stroke-width="0.8" /></g><circle cx="720.1" cy="75.5" r="26.1" fill="none" stroke="#000" stroke-width="0.8" /><line x1="703.9" y1="33.1" x2="703.9" y2="65.6" stroke="#000" stroke-width="0.7" /><line x1="701.4" y1="68.0" x2="706.4" y2="63.0" stroke="#000" stroke-width="0.7" /><line x1="701.4" y1="63.0" x2="706.4" y2="68.0" stroke="#000" stroke-width="0.5" /><text x="701.2" y="44.2" font-size="6.8" textLength="18.7" lengthAdjust="spacingAndGlyphs" text-anchor="middle" transform="rotate(-90 701.2 44.2)" >3-5 mm</text><circle cx="771.7" cy="122.0" r="13.0" fill="none" stroke="#000" stroke-width="0.6" /><circle cx="1028.0" cy="94.8" r="1.5" fill="#111" /><text x="1030.5" y="97.0" font-size="4.5" textLength="4.0" lengthAdjust="spacingAndGlyphs" >10</text><path d="M941,76.4 L936,76.4 L880.4,117.9" fill="none" stroke="#000" stroke-width="0.8" /><text x="942.0" y="78.8" font-size="7.2" textLength="92.0" lengthAdjust="spacingAndGlyphs" >Бетон на пътното платно (С30/37)</text><path d="M941,89.5 L936,89.5 L917.3,117" fill="none" stroke="#000" stroke-width="0.8" /><text x="942.0" y="91.9" font-size="7.2" textLength="134.2" lengthAdjust="spacingAndGlyphs" >Дилатационна фуга (ширина 20 mm + височина =</text><text x="942.0" y="101.3" font-size="7.2" textLength="134.9" lengthAdjust="spacingAndGlyphs" >височината на бетона) ширина 20mm + височина</text><text x="942.0" y="110.0" font-size="7.2" textLength="113.0" lengthAdjust="spacingAndGlyphs" >40 mm запълване 20mm + фугоуплътнител</text><text x="942.0" y="130.1" font-size="7.2" textLength="30.7" lengthAdjust="spacingAndGlyphs" >Сляпа фуга</text><text x="942.0" y="171.6" font-size="7.2" textLength="36.0" lengthAdjust="spacingAndGlyphs" >Работна фуга</text><line x1="853.6" y1="175.6" x2="1003.8" y2="175.6" stroke="#000" stroke-width="0.8" /><text x="942.0" y="208.7" font-size="7.2" textLength="43.2" lengthAdjust="spacingAndGlyphs" >Уплътнен насип</text><line x1="935.5" y1="210.2" x2="1003.8" y2="210.2" stroke="#000" stroke-width="0.8" /><polygon points="935.5,210.2 940.5,209.0 940.5,211.4" fill="#000" /><path d="M199.3,464 L247.2,464 L247.2,580.7 Q225,584 199.3,588 Z" fill="url(#vl)" /><path d="M406.7,464 L471.2,464 L471.2,571 Q440,582 406.7,585.6 Z" fill="url(#vl)" /><path d="M247.2,569.7 L406.7,569.7 L406.7,585.6 Q380,583 340,587 Q300,583 270,586 Q255,582 247.2,580.7 Z" fill="url(#vl)" /><path d="M199.3,588 Q225,584 247.2,580.7 Q255,582 270,586 Q300,583 340,587 Q380,583 406.7,585.6 Q440,582 471.2,571" fill="none" stroke="#000" stroke-width="0.6" stroke-dasharray="6,2,1,2"/><polygon points="198.9,455.6 253.6,455.6 253.6,461.0 250.5,464.4 198.9,464.4" fill="url(#snd)" /><polygon points="400.8,455.4 471.4,455.4 471.4,464.1 406.2,464.1" fill="url(#snd)" /><line x1="198.9" y1="455.6" x2="253.6" y2="455.6" stroke="#000" stroke-width="0.8" /><line x1="198.9" y1="464.4" x2="250.5" y2="464.4" stroke="#000" stroke-width="0.8" /><line x1="400.8" y1="455.4" x2="471.4" y2="455.4" stroke="#000" stroke-width="0.8" /><line x1="406.2" y1="464.1" x2="471.4" y2="464.1" stroke="#000" stroke-width="0.8" /><polygon points="247.2,470.5 250.5,464.4 253.6,464.4 253.6,468.3 406.2,468.3 406.2,513.7 247.2,513.7" fill="#fff" /><polygon points="247.2,470.5 250.5,464.4 253.6,464.4 253.6,468.3 406.2,468.3 406.2,513.7 247.2,513.7" fill="url(#dsh)" /><rect x="247.2" y="513.7" width="159.0" height="56.0" fill="#fff" /><rect x="247.2" y="513.7" width="159.0" height="56.0" fill="url(#dsf)" /><path d="M247.2,470.5 L247.2,569.7 L406.2,569.7 L406.2,468.3" fill="none" stroke="#000" stroke-width="0.9" /><line x1="247.2" y1="513.7" x2="406.7" y2="513.7" stroke="#555" stroke-width="0.6" /><rect x="309.0" y="536.0" width="37.0" height="9.5" fill="#fff" /><text x="327.5" y="544.0" font-size="7.8" textLength="34.0" lengthAdjust="spacingAndGlyphs" text-anchor="middle" >C20/25 (B25)</text><path d="M198.9,427.3 L222.6,427.3 Q223.6,427.3 224.1,429 M224.1,429 Q224.6,427.3 225.6,427.3 L252,427.3 Q253,427.3 253.6,429" fill="none" stroke="#000" stroke-width="0.9" /><line x1="224.1" y1="428.5" x2="224.1" y2="455.6" stroke="#222" stroke-width="1.3" /><line x1="253.6" y1="428.5" x2="253.6" y2="468.4" stroke="#222" stroke-width="1.2" /><line x1="253.6" y1="428.9" x2="300.3" y2="428.9" stroke="#000" stroke-width="0.8" /><line x1="253.6" y1="468.4" x2="300.3" y2="468.4" stroke="#000" stroke-width="0.8" /><line x1="353.8" y1="428.6" x2="398.6" y2="428.6" stroke="#000" stroke-width="0.8" /><line x1="398.6" y1="428.6" x2="398.6" y2="468.3" stroke="#222" stroke-width="1.2" /><line x1="353.8" y1="468.3" x2="398.6" y2="468.3" stroke="#000" stroke-width="0.8" /><path d="M400.8,455.4 L400.8,429.4 Q400.8,427.9 402.3,427.9 L427.3,427.9 Q428.8,427.9 428.8,429.4 L428.8,455.4" fill="none" stroke="#222" stroke-width="1.1" /><path d="M430.8,455.4 L430.8,429.4 Q430.8,427.9 432.3,427.9 L471.4,427.9" fill="none" stroke="#222" stroke-width="1.1" /><rect x="300.3" y="430.3" width="4.3" height="37.8" fill="#fff" /><rect x="349.7" y="430.3" width="4.1" height="37.8" fill="#fff" /><rect x="300.3" y="430.3" width="4.3" height="37.8" fill="url(#dh)" /><rect x="349.7" y="430.3" width="4.1" height="37.8" fill="url(#dh)" /><rect x="300.3" y="430.3" width="4.3" height="37.8" fill="none" stroke="#222" stroke-width="0.9" /><rect x="349.7" y="430.3" width="4.1" height="37.8" fill="none" stroke="#222" stroke-width="0.9" /><g transform="translate(-3.3,312)"><path d="M307.7,118.6 L307.7,193.2 L353.4,193.2 L353.4,118.6" fill="#fff" stroke="#000" stroke-width="1.0" /><line x1="307.7" y1="118.6" x2="353.4" y2="118.6" stroke="#333" stroke-width="0.8" /><path d="M309.1,119 L309.1,145.3 L313.9,145.3 M309.1,121.8 L312.2,121.8 L312.2,145.3" fill="none" stroke="#000" stroke-width="0.7" /><path d="M352.0,119 L352.0,145.3 L348.5,145.3 M352.0,121.8 L350.2,121.8 L350.2,145.3" fill="none" stroke="#000" stroke-width="0.7" /><path d="M313.9,118.6 L313.9,147 A17.3,43.2 0 0,0 348.5,147 L348.5,118.6" fill="none" stroke="#000" stroke-width="1.0" /><path d="M316.8,143.4 L316.8,150 A14.4,37 0 0,0 345.6,150 L345.6,143.4" fill="none" stroke="#000" stroke-width="0.8" /><line x1="316.8" y1="143.4" x2="345.6" y2="143.4" stroke="#000" stroke-width="0.9" /><path d="M318.3,119.2 L319.2,143 M320.6,119.2 L320.3,143 M344.1,119.2 L343.2,143 M341.8,119.2 L342.1,143" fill="none" stroke="#444" stroke-width="0.55" /><path d="M308.3,160.2 L310.2,160.2 L310.2,184.5 L316.3,190.2 L316.3,193.2" fill="none" stroke="#000" stroke-width="0.8" /><path d="M352.8,160.2 L350.9,160.2 L350.9,184.5 L344.8,190.2 L344.8,193.2" fill="none" stroke="#000" stroke-width="0.8" /></g><circle cx="308.1" cy="434.2" r="13.4" fill="none" stroke="#000" stroke-width="0.6" /><line x1="376.3" y1="467.5" x2="376.3" y2="569.7" stroke="#000" stroke-width="0.7" /><line x1="373.8" y1="470.0" x2="378.8" y2="465.0" stroke="#000" stroke-width="0.7" /><line x1="373.8" y1="516.2" x2="378.8" y2="511.2" stroke="#000" stroke-width="0.7" /><line x1="373.8" y1="572.2" x2="378.8" y2="567.2" stroke="#000" stroke-width="0.7" /><text x="373.5" y="489.0" font-size="6.5" text-anchor="middle" transform="rotate(-90 373.5 489.0)" >Y</text><text x="373.5" y="540.0" font-size="6.5" text-anchor="middle" transform="rotate(-90 373.5 540.0)" >Z</text><line x1="247.2" y1="595.3" x2="304.4" y2="595.3" stroke="#000" stroke-width="0.7" /><line x1="247.2" y1="571.0" x2="247.2" y2="598.0" stroke="#000" stroke-width="0.7" /><line x1="304.4" y1="571.0" x2="304.4" y2="598.0" stroke="#000" stroke-width="0.7" /><line x1="245.2" y1="597.5" x2="249.2" y2="593.1" stroke="#000" stroke-width="0.8" /><line x1="302.4" y1="597.5" x2="306.4" y2="593.1" stroke="#000" stroke-width="0.8" /><text x="275.8" y="593.0" font-size="7" textLength="4.5" lengthAdjust="spacingAndGlyphs" text-anchor="middle" >X</text><line x1="348.8" y1="595.3" x2="406.7" y2="595.3" stroke="#000" stroke-width="0.7" /><line x1="348.8" y1="571.0" x2="348.8" y2="598.0" stroke="#000" stroke-width="0.7" /><line x1="406.7" y1="571.0" x2="406.7" y2="598.0" stroke="#000" stroke-width="0.7" /><line x1="346.8" y1="597.5" x2="350.8" y2="593.1" stroke="#000" stroke-width="0.8" /><line x1="404.7" y1="597.5" x2="408.7" y2="593.1" stroke="#000" stroke-width="0.8" /><text x="377.8" y="593.0" font-size="7" textLength="4.5" lengthAdjust="spacingAndGlyphs" text-anchor="middle" >X</text><clipPath id="c3"><circle cx="255.7" cy="388" r="26.4"/></clipPath><g clip-path="url(#c3)"><rect x="239.9" y="379.3" width="8.8" height="40.0" fill="url(#dg)" /><rect x="248.7" y="380.0" width="35.0" height="40.0" fill="url(#stp)" /><line x1="239.9" y1="379.3" x2="239.9" y2="420.0" stroke="#000" stroke-width="0.8" /><line x1="248.7" y1="379.3" x2="248.7" y2="420.0" stroke="#000" stroke-width="0.9" /><path d="M225,376.6 L235,376.6 Q237,376.6 238,378.5 L239.9,379.2" fill="none" stroke="#000" stroke-width="0.7" /><path d="M225,379.2 L263.5,379.2 L265,381 L267,381 L268,379.8 L290,379.8" fill="none" stroke="#000" stroke-width="0.8" /></g><circle cx="255.7" cy="388.0" r="26.4" fill="none" stroke="#000" stroke-width="0.7" /><line x1="225.5" y1="344.3" x2="225.5" y2="378.5" stroke="#000" stroke-width="0.7" /><line x1="223.0" y1="381.0" x2="228.0" y2="376.0" stroke="#000" stroke-width="0.7" /><line x1="223.0" y1="376.0" x2="228.0" y2="381.0" stroke="#000" stroke-width="0.5" /><text x="222.6" y="354.5" font-size="6.5" textLength="20.5" lengthAdjust="spacingAndGlyphs" text-anchor="middle" transform="rotate(-90 222.6 354.5)" >3-5 mm</text><path d="M486,380 L481,380 L355,428" fill="none" stroke="#000" stroke-width="0.8" /><text x="486.9" y="382.4" font-size="7.2" textLength="39.0" lengthAdjust="spacingAndGlyphs" >Разлика фуга</text><path d="M486,393.7 L481,393.7 L375,433" fill="none" stroke="#000" stroke-width="0.8" /><text x="486.9" y="396.1" font-size="7.2" textLength="79.0" lengthAdjust="spacingAndGlyphs" >При екстремни натоварвания</text><text x="486.9" y="404.8" font-size="7.2" textLength="64.0" lengthAdjust="spacingAndGlyphs" >голямогабаритни плочи</text><text x="486.9" y="414.0" font-size="7.2" textLength="57.3" lengthAdjust="spacingAndGlyphs" >(например 16/16/14)</text><text x="486.9" y="432.7" font-size="7.2" textLength="62.8" lengthAdjust="spacingAndGlyphs" >Настилка от плочи/ паваж</text><line x1="476.0" y1="436.0" x2="544.2" y2="436.0" stroke="#000" stroke-width="0.8" /><polygon points="476.0,436.0 481.0,434.8 481.0,437.2" fill="#000" /><text x="486.9" y="457.9" font-size="7.2" textLength="57.3" lengthAdjust="spacingAndGlyphs" >Хастар за плочи/ паваж</text><line x1="476.0" y1="461.0" x2="544.2" y2="461.0" stroke="#000" stroke-width="0.8" /><polygon points="476.0,461.0 481.0,459.8 481.0,462.2" fill="#000" /><text x="486.9" y="492.8" font-size="7.2" textLength="26.0" lengthAdjust="spacingAndGlyphs" >Уплътнен</text><text x="486.9" y="502.0" font-size="7.2" textLength="15.4" lengthAdjust="spacingAndGlyphs" >насип</text><line x1="476.0" y1="494.2" x2="544.2" y2="494.2" stroke="#000" stroke-width="0.8" /><polygon points="476.0,494.2 481.0,493.0 481.0,495.4" fill="#000" /><text x="486.9" y="520.0" font-size="7.2" textLength="36.1" lengthAdjust="spacingAndGlyphs" >Работна фуга</text><path d="M316.6,512.5 L486,517.6" fill="none" stroke="#000" stroke-width="0.8" /><path d="M360.4,505.2 L486,538.8" fill="none" stroke="#000" stroke-width="0.8" /><text x="486.9" y="541.2" font-size="7.2" textLength="80.7" lengthAdjust="spacingAndGlyphs" >2-3 cm подложен бетон с max</text><text x="486.9" y="550.2" font-size="7.2" textLength="89.0" lengthAdjust="spacingAndGlyphs" >размер на зърнената фракция. 8</text><text x="486.9" y="558.1" font-size="7.2" textLength="83.2" lengthAdjust="spacingAndGlyphs" >mm, с качество отговарящо на</text><text x="486.9" y="566.9" font-size="7.2" textLength="61.6" lengthAdjust="spacingAndGlyphs" >бетона на фундамента</text><path d="M643,454.3 L707.5,454.3 L707.5,612 Q680,613 643,613.8 Z" fill="url(#vl)" /><path d="M854.1,410.2 L933.6,410.2 L933.6,607.5 Q905,606 882.3,608 L882.3,440 L854.1,423.5 Z" fill="url(#vl)" /><path d="M707.5,601.2 L882.3,601.2 L882.3,608 Q850,612 800,611 Q750,613 707.5,612 Z" fill="url(#vl)" /><path d="M643,613.8 Q680,613 707.5,612 Q750,613 800,611 Q850,612 882.3,608 Q905,606 933.6,607.5" fill="none" stroke="#000" stroke-width="0.6" stroke-dasharray="6,2,1,2"/><rect x="643.0" y="445.5" width="64.5" height="8.8" fill="url(#snd)" /><line x1="643.0" y1="454.3" x2="707.5" y2="454.3" stroke="#000" stroke-width="0.8" /><rect x="854.1" y="401.9" width="79.5" height="8.3" fill="url(#snd)" /><line x1="854.1" y1="401.9" x2="933.6" y2="401.9" stroke="#000" stroke-width="0.8" /><line x1="854.1" y1="410.2" x2="933.6" y2="410.2" stroke="#000" stroke-width="0.8" /><polygon points="707.5,445.5 749.6,445.5 749.6,566.0 707.5,566.0" fill="#fff" /><polygon points="707.5,445.5 749.6,445.5 749.6,566.0 707.5,566.0" fill="url(#dsf)" /><line x1="707.5" y1="445.5" x2="707.5" y2="566.0" stroke="#000" stroke-width="0.9" /><polygon points="808.8,465.2 854.1,465.2 854.1,423.5 882.6,440.0 882.6,566.0 808.8,566.0" fill="#fff" /><polygon points="808.8,465.2 854.1,465.2 854.1,423.5 882.6,440.0 882.6,566.0 808.8,566.0" fill="url(#dsf)" /><polygon points="808.8,465.2 854.1,465.2 854.1,423.5 882.6,440.0 882.6,566.0 808.8,566.0" fill="none" stroke="#000" stroke-width="0.9" /><polygon points="749.6,560.4 808.8,560.4 819.6,566.2 743.8,566.2" fill="#fff" /><polygon points="749.6,560.4 808.8,560.4 819.6,566.2 743.8,566.2" fill="url(#dsh)" /><polygon points="749.6,560.4 808.8,560.4 819.6,566.2 743.8,566.2" fill="none" stroke="#000" stroke-width="0.7" /><rect x="707.5" y="566.0" width="175.0" height="35.2" fill="#fff" /><rect x="707.5" y="566.0" width="175.0" height="35.2" fill="url(#dsf)" /><rect x="707.5" y="566.0" width="175.0" height="35.2" fill="none" stroke="#000" stroke-width="0.9" /><line x1="707.5" y1="566.0" x2="882.5" y2="566.0" stroke="#555" stroke-width="0.6" /><rect x="752.0" y="576.0" width="38.0" height="10.0" fill="#fff" /><text x="771.5" y="584.8" font-size="7.8" textLength="34.0" lengthAdjust="spacingAndGlyphs" text-anchor="middle" >C25/30 (B30)</text><line x1="643.0" y1="423.1" x2="749.6" y2="423.1" stroke="#000" stroke-width="0.9" /><line x1="643.0" y1="445.5" x2="749.6" y2="445.5" stroke="#000" stroke-width="0.8" /><rect x="661.5" y="423.5" width="1.8" height="22.0" fill="#444" /><path d="M660.4,423.1 Q662.4,423.3 662.4,425.5 Q662.4,423.3 664.4,423.1" fill="#fff" stroke="#000" stroke-width="0.7" /><rect x="719.4" y="423.5" width="1.8" height="22.0" fill="#444" /><path d="M718.3,423.1 Q720.3,423.3 720.3,425.5 Q720.3,423.3 722.3,423.1" fill="#fff" stroke="#000" stroke-width="0.7" /><line x1="854.1" y1="379.2" x2="937.0" y2="379.2" stroke="#000" stroke-width="0.9" /><line x1="854.1" y1="401.9" x2="933.6" y2="401.9" stroke="#000" stroke-width="0.8" /><rect x="882.8" y="379.6" width="1.4" height="22.3" fill="#444" /><path d="M853.9,401.9 L853.9,381 Q853.9,379.3 856,379.3" fill="none" stroke="#000" stroke-width="0.8" /><path d="M810.5,465.2 L810.5,424.2 L818.6,385 Q819.6,380.4 824,380.4 L852.3,380.4 Q853.9,380.4 853.9,382 L853.9,465.2 Z" fill="#fff" stroke="#000" stroke-width="0.9" /><rect x="808.6" y="424.2" width="2.4" height="41.0" fill="#222" /><path d="M749.6,424.5 L749.6,560.4 L808.8,560.4 L808.8,424.5" fill="#fff" stroke="#000" stroke-width="1.0" /><line x1="749.6" y1="424.5" x2="808.8" y2="424.5" stroke="#000" stroke-width="0.9" /><path d="M771.4,425 L771.4,443.3 L758,450.5 L758,453" fill="none" stroke="#000" stroke-width="1.0" /><path d="M787.5,425 L787.5,443.3 L800.8,450.5 L800.8,453" fill="none" stroke="#000" stroke-width="1.0" /><path d="M773.6,425 L773.6,444.5 L760.5,452" fill="none" stroke="#000" stroke-width="0.6" /><path d="M785.3,425 L785.3,444.5 L798.3,452" fill="none" stroke="#000" stroke-width="0.6" /><circle cx="760.9" cy="437.6" r="3.8" fill="none" stroke="#000" stroke-width="0.9" /><circle cx="760.9" cy="437.6" r="2.0" fill="none" stroke="#000" stroke-width="0.7" /><circle cx="797.0" cy="437.6" r="3.8" fill="none" stroke="#000" stroke-width="0.9" /><circle cx="797.0" cy="437.6" r="2.0" fill="none" stroke="#000" stroke-width="0.7" /><path d="M753.3,450 L753.3,512.5 A26.15,44.8 0 0,0 805.6,512.5 L805.6,450" fill="none" stroke="#000" stroke-width="1.3" /><path d="M755.6,452 L755.6,512.5 A23.85,42.3 0 0,0 803.3,512.5 L803.3,452" fill="none" stroke="#000" stroke-width="0.9" /><path d="M758.4,453 L758.4,512.5 A21.1,39.3 0 0,0 800.6,512.5 L800.6,453" fill="none" stroke="#000" stroke-width="1.3" /><line x1="758.6" y1="452.8" x2="800.4" y2="452.8" stroke="#000" stroke-width="0.7" /><circle cx="752.0" cy="428.3" r="13.0" fill="none" stroke="#000" stroke-width="0.6" /><line x1="779.3" y1="408.0" x2="779.3" y2="628.0" stroke="#000" stroke-width="0.6" stroke-dasharray="8,2,1.5,2"/><line x1="819.3" y1="566.0" x2="819.3" y2="601.2" stroke="#000" stroke-width="0.7" /><line x1="816.8" y1="568.5" x2="821.8" y2="563.5" stroke="#000" stroke-width="0.7" /><line x1="816.8" y1="603.7" x2="821.8" y2="598.7" stroke="#000" stroke-width="0.7" /><text x="816.5" y="584.0" font-size="6.5" text-anchor="middle" transform="rotate(-90 816.5 584.0)" >Z</text><line x1="707.5" y1="620.9" x2="749.6" y2="620.9" stroke="#000" stroke-width="0.7" /><line x1="707.5" y1="600.0" x2="707.5" y2="623.5" stroke="#000" stroke-width="0.7" /><line x1="749.6" y1="600.0" x2="749.6" y2="623.5" stroke="#000" stroke-width="0.7" /><line x1="705.5" y1="623.1" x2="709.5" y2="618.7" stroke="#000" stroke-width="0.8" /><line x1="747.6" y1="623.1" x2="751.6" y2="618.7" stroke="#000" stroke-width="0.8" /><text x="728.5" y="618.6" font-size="7" textLength="4.5" lengthAdjust="spacingAndGlyphs" text-anchor="middle" >X</text><line x1="808.8" y1="620.9" x2="851.6" y2="620.9" stroke="#000" stroke-width="0.7" /><line x1="808.8" y1="600.0" x2="808.8" y2="623.5" stroke="#000" stroke-width="0.7" /><line x1="851.6" y1="600.0" x2="851.6" y2="623.5" stroke="#000" stroke-width="0.7" /><line x1="806.8" y1="623.1" x2="810.8" y2="618.7" stroke="#000" stroke-width="0.8" /><line x1="849.6" y1="623.1" x2="853.6" y2="618.7" stroke="#000" stroke-width="0.8" /><text x="830.2" y="618.6" font-size="7" textLength="4.5" lengthAdjust="spacingAndGlyphs" text-anchor="middle" >X</text><clipPath id="c4"><circle cx="700.8" cy="369.4" r="26.4"/></clipPath><g clip-path="url(#c4)"><rect x="695.6" y="361.3" width="35.0" height="40.0" fill="url(#stp)" /><line x1="695.6" y1="361.3" x2="695.6" y2="400.0" stroke="#000" stroke-width="0.9" /><line x1="690.0" y1="361.3" x2="735.0" y2="361.3" stroke="#000" stroke-width="0.9" /><path d="M670,358.2 L692.5,358.2 L695.6,361.3" fill="none" stroke="#000" stroke-width="0.7" /><rect x="705.0" y="359.8" width="10.0" height="1.5" fill="#999" /></g><circle cx="700.8" cy="369.4" r="26.4" fill="none" stroke="#000" stroke-width="0.8" /><line x1="684.3" y1="327.1" x2="684.3" y2="358.0" stroke="#000" stroke-width="0.7" /><line x1="681.8" y1="361.0" x2="686.8" y2="356.0" stroke="#000" stroke-width="0.7" /><line x1="681.8" y1="356.0" x2="686.8" y2="361.0" stroke="#000" stroke-width="0.5" /><text x="681.6" y="337.8" font-size="6.8" textLength="19.5" lengthAdjust="spacingAndGlyphs" text-anchor="middle" transform="rotate(-90 681.6 337.8)" >3-5 mm</text><text x="700.5" y="404.3" font-size="7.2" textLength="83.5" lengthAdjust="spacingAndGlyphs" >Запълване с циментов разтвор</text><path d="M785,401.9 L790,401.9 L809.3,423.5" fill="none" stroke="#000" stroke-width="0.8" /><text x="947.9" y="380.9" font-size="7.2" textLength="62.9" lengthAdjust="spacingAndGlyphs" >Настилка от плочи/ паваж</text><line x1="937.0" y1="383.7" x2="993.0" y2="383.7" stroke="#000" stroke-width="0.8" /><polygon points="937.0,383.7 942.0,382.5 942.0,384.9" fill="#000" /><text x="947.9" y="403.2" font-size="7.2" textLength="57.0" lengthAdjust="spacingAndGlyphs" >Хастар за плочи/ паваж</text><line x1="937.0" y1="405.6" x2="993.0" y2="405.6" stroke="#000" stroke-width="0.8" /><polygon points="937.0,405.6 942.0,404.4 942.0,406.8" fill="#000" /><text x="947.9" y="485.9" font-size="7.2" textLength="43.9" lengthAdjust="spacingAndGlyphs" >Уплътнен насип</text><line x1="937.0" y1="487.0" x2="993.0" y2="487.0" stroke="#000" stroke-width="0.8" /><polygon points="937.0,487.0 942.0,485.8 942.0,488.2" fill="#000" /><text x="947.9" y="504.2" font-size="7.2" textLength="140.1" lengthAdjust="spacingAndGlyphs" >2-3 cm подложен бетон с max размер на зърнената</text><text x="947.9" y="513.2" font-size="7.2" textLength="138.9" lengthAdjust="spacingAndGlyphs" >фракция. 8 mm, с качество отговарящо на бетона</text><text x="947.9" y="522.0" font-size="7.2" textLength="43.9" lengthAdjust="spacingAndGlyphs" >на фундамента</text><path d="M946,502 L813.4,562" fill="none" stroke="#000" stroke-width="0.8" /><text x="947.9" y="535.8" font-size="7.2" textLength="35.6" lengthAdjust="spacingAndGlyphs" >Работна фуга</text><path d="M946,533.4 L943,533.4 L851.6,566" fill="none" stroke="#000" stroke-width="0.8" />
</svg></div>
<svg width="1191" height="842" viewBox="0 0 1191 842" style="position:absolute;left:0;top:0">
<rect x="1059.7" y="728.1" width="74.3" height="57.2" fill="#ff0000" /><rect x="1084.0" y="728.1" width="1.3" height="57.2" fill="#fff" /><rect x="1109.4" y="728.1" width="1.3" height="57.2" fill="#fff" /><g fill="none" stroke="#fff" stroke-width="3.2"><path d="M1063.8,782.5 Q1065.5,768 1071.7,764.6 Q1077.9,768 1079.6,782.5" fill="none" /><path d="M1064.5,779.2 L1079,779.2" fill="none" /><path d="M1104.2,768.3 A7.6,7.6 0 1,0 1104.2,778.5" fill="none" /><circle cx="1122.0" cy="773.3" r="7.9" fill="none" stroke="#fff" stroke-width="3.0" /></g>
</svg></div></body></html>
